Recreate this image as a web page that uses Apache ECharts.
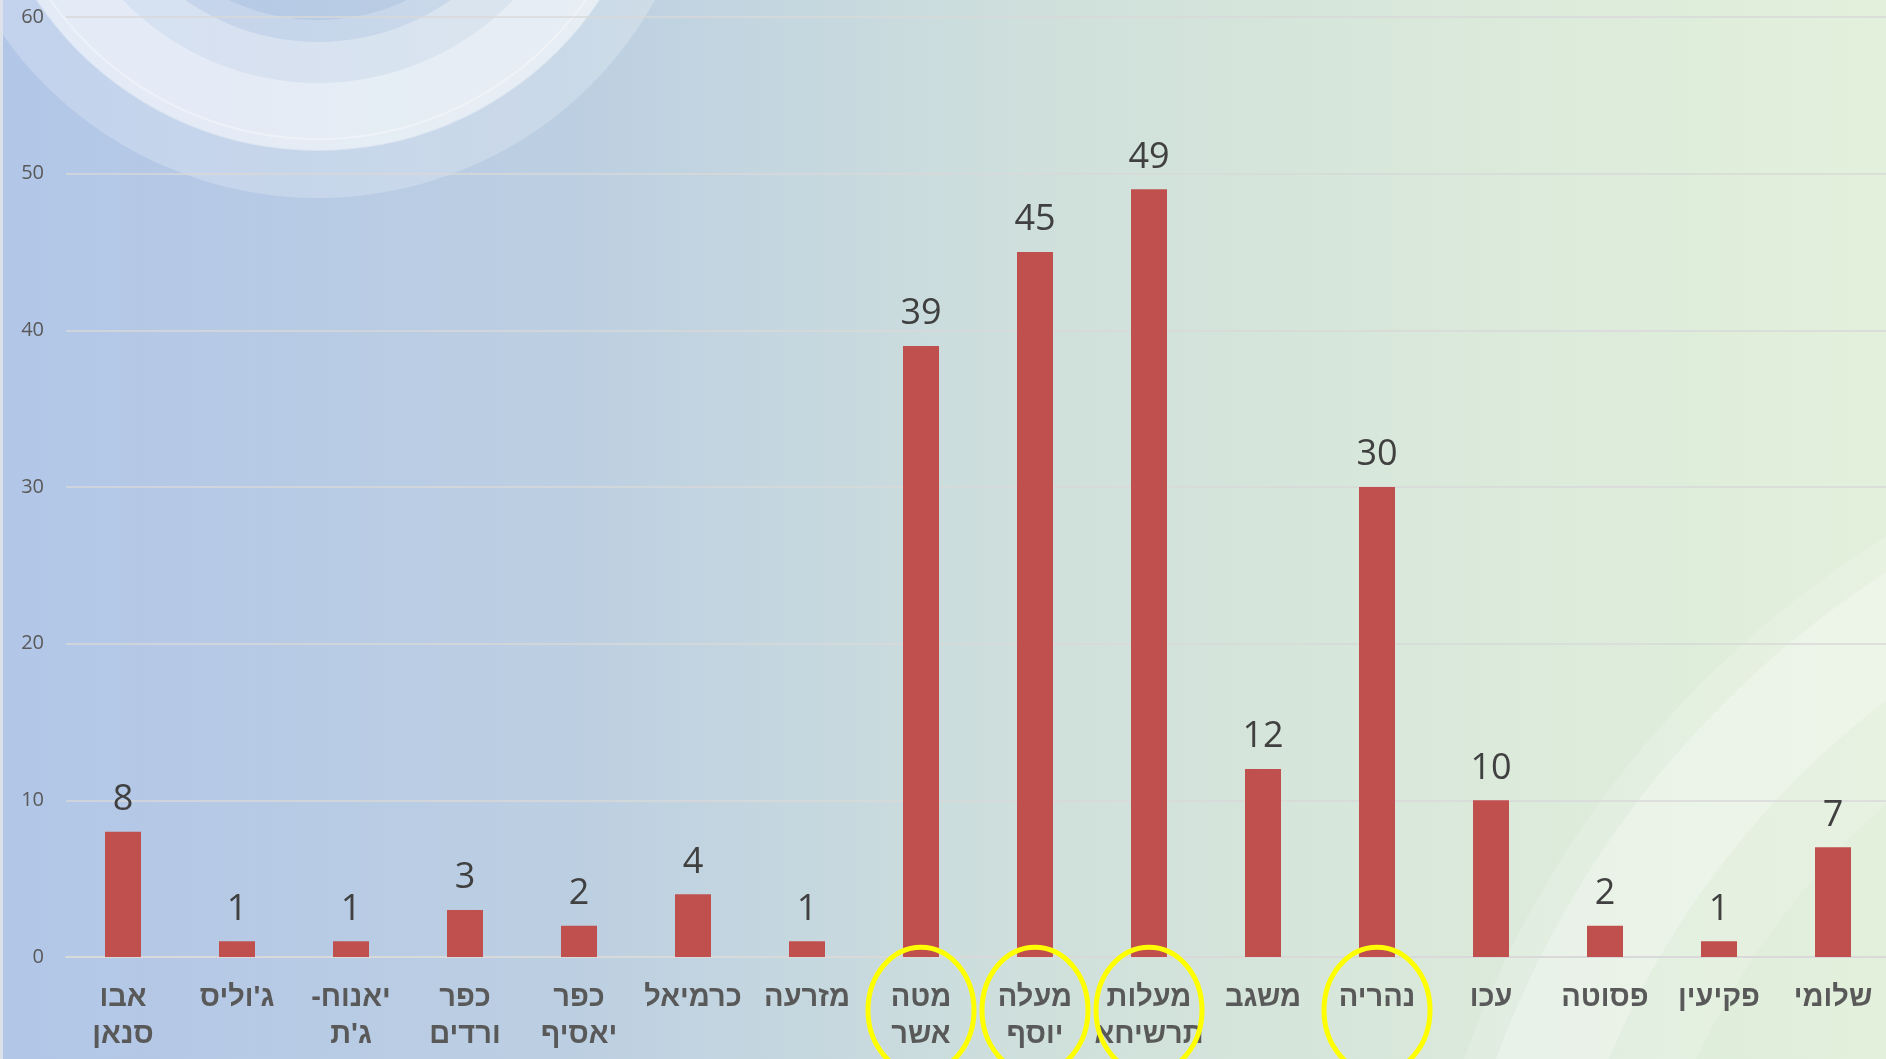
<!DOCTYPE html>
<html>
<head>
<meta charset="utf-8">
<script src="https://cdn.jsdelivr.net/npm/echarts@6/dist/echarts.min.js"></script>
<style>
  html, body { margin: 0; padding: 0; }
  #chart-container { width: 1886px; height: 1059px; }
</style>
</head>
<body>
<div id="chart-container"></div>
<script>
var dom = document.getElementById("chart-container");
var myChart = echarts.init(dom, null, { renderer: "canvas" });

// settlements (x axis), line breaks as in the original slide
const categories = [
  "אבו\nסנאן",
  "ג'וליס",
  "יאנוח-\u200F\nג'ת",
  "כפר\nורדים",
  "כפר\nיאסיף",
  "כרמיאל",
  "מזרעה",
  "מטה\nאשר",
  "מעלה\nיוסף",
  "מעלות\nתרשיחא",
  "משגב",
  "נהריה",
  "עכו",
  "פסוטה",
  "פקיעין",
  "שלומי",
];
const values = [8, 1, 1, 3, 2, 4, 1, 39, 45, 49, 12, 30, 10, 2, 1, 7];

// circled in yellow on the slide
const highlighted = ["מטה\nאשר", "מעלה\nיוסף", "מעלות\nתרשיחא", "נהריה"];

const yTicks = { min: 0, max: 60, interval: 10 };

// decorative swooshes of the slide background
var decor = [
  {
    type: "rect",
    z: -100,
    silent: true,
    shape: { x: 0, y: 0, width: 1886, height: 1059 },
    style: {
      fill: new echarts.graphic.LinearGradient(0, 0, 1, 0, [
        { offset: 0, color: "#b2c6e8" },
        { offset: 0.3, color: "#bccfe2" },
        { offset: 0.55, color: "#cfe0dc" },
        { offset: 0.8, color: "#dbeada" },
        { offset: 1, color: "#e3f0dc" },
      ]),
    },
  },
  {
    type: "ring", z: -90, silent: true,
    shape: { cx: 318, cy: -188, r: 386, r0: 208 },
    style: { fill: "rgba(255,255,255,0.22)" },
  },
  {
    type: "ring", z: -89, silent: true,
    shape: { cx: 318, cy: -188, r: 338, r0: 230 },
    style: { fill: "rgba(255,255,255,0.3)" },
  },
  {
    type: "ring", z: -88, silent: true,
    shape: { cx: 318, cy: -188, r: 328, r0: 271 },
    style: { fill: "rgba(255,255,255,0.35)" },
  },
  {
    type: "ring", z: -87, silent: true,
    shape: { cx: 318, cy: -188, r: 339, r0: 326 },
    style: { fill: "rgba(255,255,255,0.35)" },
  },
  {
    type: "ring", z: -90, silent: true,
    shape: { cx: 2420, cy: 1400, r: 1015, r0: 800 },
    style: { fill: "rgba(255,255,255,0.16)" },
  },
  {
    type: "ring", z: -89, silent: true,
    shape: { cx: 2420, cy: 1400, r: 985, r0: 880 },
    style: { fill: "rgba(255,255,255,0.28)" },
  },
  {
    type: "rect", z: -80, silent: true,
    shape: { x: 0, y: 0, width: 3, height: 1059 },
    style: { fill: "rgba(225,228,234,0.9)" },
  },
];

var option = {
  animation: false,
  graphic: decor,
  grid: {
    left: 66,
    top: 17,
    width: 1824,
    bottom: 102,
    outerBoundsMode: "none",
  },
  xAxis: {
    type: "category",
    data: categories,
    axisTick: { show: false },
    axisLine: { lineStyle: { color: "#d9d9d9", width: 2 } },
    axisLabel: {
      interval: 0,
      margin: 22,
      color: "#595959",
      fontSize: 29,
      fontWeight: "bold",
      fontFamily: "Liberation Sans, DejaVu Sans, sans-serif",
      lineHeight: 37,
    },
  },
  yAxis: {
    type: "value",
    min: yTicks.min,
    max: yTicks.max,
    interval: yTicks.interval,
    axisLine: { show: false },
    axisTick: { show: false },
    axisLabel: {
      margin: 22,
      color: "#595959",
      fontSize: 20,
      fontFamily: "Open Sans, Noto Sans, sans-serif",
    },
    splitLine: { lineStyle: { color: "#d9d9d9", width: 1.5 } },
  },
  series: [
    {
      type: "bar",
      data: values,
      barWidth: 36,
      itemStyle: { color: "#c0504d" },
      label: {
        show: true,
        position: "top",
        distance: 14,
        color: "#404040",
        fontSize: 36,
        fontFamily: "Open Sans, Noto Sans, sans-serif",
      },
    },
  ],
};

if (option && typeof option === "object") {
  myChart.setOption(option);
}

// yellow ellipses around the highlighted category labels, placed via the axes
var ellipses = highlighted.map(function (name) {
  var p = myChart.convertToPixel({ gridIndex: 0 }, [categories.indexOf(name), -3.4]);
  return {
    type: "ellipse",
    z: 100,
    silent: true,
    shape: { cx: p[0], cy: p[1], rx: 53, ry: 63 },
    style: { fill: null, stroke: "#ffff00", lineWidth: 5 },
  };
});
myChart.setOption({ graphic: decor.concat(ellipses) });

window.addEventListener("resize", myChart.resize);
</script>
</body>
</html>
